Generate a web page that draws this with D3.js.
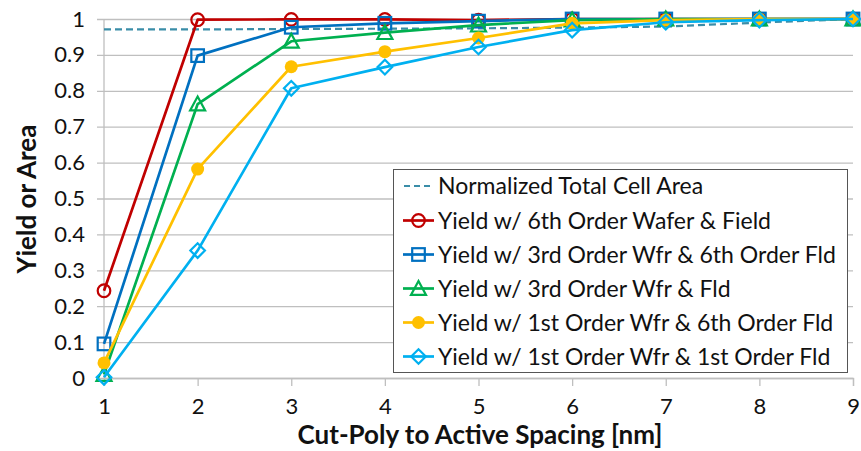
<!DOCTYPE html>
<html>
<head>
<meta charset="utf-8">
<script src="https://cdn.jsdelivr.net/npm/d3@7"></script>
<style>
  html, body { margin: 0; padding: 0; background: #fff; }
  svg { display: block; font-family: Lato, "Open Sans", sans-serif; }
</style>
</head>
<body>
<svg id="chart" width="861" height="451"></svg>
<script>
// Cut-poly to active spacing (nm)
const spacing = [1, 2, 3, 4, 5, 6, 7, 8, 9];

const cellArea      = [0.971, 0.971, 0.972, 0.973, 0.974, 0.976, 0.979, 0.990, 1.000];
const yield6Wafer   = [0.243, 0.998, 0.999, 0.999, 0.997, 1.000, 1.000, 1.000, 1.000];
const yield3Wfr6Fld = [0.095, 0.898, 0.977, 0.988, 0.994, 1.000, 1.000, 1.000, 1.000];
const yield3Wfr3Fld = [0.010, 0.763, 0.938, 0.962, 0.983, 0.997, 1.000, 1.000, 1.000];
const yield1Wfr6Fld = [0.042, 0.582, 0.867, 0.909, 0.947, 0.988, 0.997, 1.000, 1.000];
const yield1Wfr1Fld = [0.002, 0.355, 0.807, 0.866, 0.922, 0.969, 0.991, 0.997, 1.000];

const xTicks = [1, 2, 3, 4, 5, 6, 7, 8, 9];
const yTicks = [0, 0.1, 0.2, 0.3, 0.4, 0.5, 0.6, 0.7, 0.8, 0.9, 1];

const seriesNames = [
  "Normalized Total Cell Area",
  "Yield w/ 6th Order Wafer & Field",
  "Yield w/ 3rd Order Wfr & 6th Order Fld",
  "Yield w/ 3rd Order Wfr & Fld",
  "Yield w/ 1st Order Wfr & 6th Order Fld",
  "Yield w/ 1st Order Wfr & 1st Order Fld"
];

const series = [
  { name: seriesNames[0], values: cellArea,      color: "#3A8DA8", marker: null,       dashed: true },
  { name: seriesNames[1], values: yield6Wafer,   color: "#C00000", marker: "circle" },
  { name: seriesNames[2], values: yield3Wfr6Fld, color: "#0070C0", marker: "square" },
  { name: seriesNames[3], values: yield3Wfr3Fld, color: "#00B050", marker: "triangle" },
  { name: seriesNames[4], values: yield1Wfr6Fld, color: "#FFC000", marker: "dot" },
  { name: seriesNames[5], values: yield1Wfr1Fld, color: "#00B0F0", marker: "diamond" }
];

const svg = d3.select("#chart");
const plotLeft = 104, plotRight = 853, plotTop = 19, plotBottom = 378;

const x = d3.scaleLinear().domain([1, 9]).range([plotLeft, plotRight]);
const y = d3.scaleLinear().domain([0, 1]).range([plotBottom, plotTop]);

const gridColor = "#BFBFBF";

// horizontal gridlines with short ticks left of the axis
const yAxis = d3.axisLeft(y).tickValues(yTicks).tickSize(-(plotRight - plotLeft)).tickPadding(19)
  .tickFormat(d => d === 0 ? "0" : d === 1 ? "1" : d3.format(".1f")(d));
const gy = svg.append("g").attr("transform", `translate(${plotLeft},0)`).call(yAxis);
gy.select(".domain").remove();
gy.selectAll(".tick line").attr("stroke", gridColor).attr("stroke-width", 1.3)
  .attr("x1", -7);
gy.selectAll(".tick text").attr("font-size", 22).attr("fill", "#111")
  .attr("font-family", "Lato, sans-serif");

// vertical axis line
svg.append("line").attr("x1", plotLeft).attr("x2", plotLeft).attr("y1", plotTop).attr("y2", plotBottom)
  .attr("stroke", gridColor).attr("stroke-width", 1.3);

// x axis
const xAxis = d3.axisBottom(x).tickValues(xTicks).tickSize(8).tickPadding(12).tickFormat(d3.format("d"));
const gx = svg.append("g").attr("transform", `translate(0,${plotBottom})`).call(xAxis);
gx.select(".domain").attr("stroke", gridColor).attr("stroke-width", 1.3);
gx.selectAll(".tick line").attr("stroke", gridColor).attr("stroke-width", 1.3);
gx.selectAll(".tick text").attr("font-size", 22).attr("fill", "#111")
  .attr("font-family", "Lato, sans-serif");

// axis titles
svg.append("text").attr("x", 480).attr("y", 444)
  .attr("text-anchor", "middle").attr("font-size", 26).attr("font-weight", "bold")
  .attr("fill", "#111").text("Cut-Poly to Active Spacing [nm]");
svg.append("text").attr("transform", "translate(36,199) rotate(-90)")
  .attr("text-anchor", "middle").attr("font-size", 26).attr("font-weight", "bold")
  .attr("fill", "#111").text("Yield or Area");

// markers
function drawMarker(g, type, color, cx, cy) {
  if (type === "circle") {
    g.append("circle").attr("cx", cx).attr("cy", cy).attr("r", 6.3)
      .attr("fill", "none").attr("stroke", color).attr("stroke-width", 2.2);
  } else if (type === "square") {
    g.append("rect").attr("x", cx - 6.3).attr("y", cy - 6.3).attr("width", 12.6).attr("height", 12.6)
      .attr("fill", "none").attr("stroke", color).attr("stroke-width", 2.2);
  } else if (type === "triangle") {
    const s = 7.5;
    g.append("path").attr("d", `M${cx},${cy - s}L${cx + s},${cy + s * 0.85}L${cx - s},${cy + s * 0.85}Z`)
      .attr("fill", "none").attr("stroke", color).attr("stroke-width", 2.2);
  } else if (type === "dot") {
    g.append("circle").attr("cx", cx).attr("cy", cy).attr("r", 6.5).attr("fill", color);
  } else if (type === "diamond") {
    const s = 7.3;
    g.append("path").attr("d", `M${cx},${cy - s}L${cx + s},${cy}L${cx},${cy + s}L${cx - s},${cy}Z`)
      .attr("fill", "none").attr("stroke", color).attr("stroke-width", 2.2);
  }
}

const line = d3.line().x((d, i) => x(spacing[i])).y(d => y(d));

series.forEach(s => {
  const g = svg.append("g");
  g.append("path").datum(s.values).attr("d", line)
    .attr("fill", "none").attr("stroke", s.color)
    .attr("stroke-width", s.dashed ? 2.2 : 2.7)
    .attr("stroke-dasharray", s.dashed ? "7,4" : null)
    .attr("stroke-linejoin", "round");
  if (s.marker) {
    s.values.forEach((v, i) => drawMarker(g, s.marker, s.color, x(spacing[i]), y(v)));
  }
});

// legend
const lg = svg.append("g");
lg.append("rect").attr("x", 393.5).attr("y", 169.5).attr("width", 454).attr("height", 203)
  .attr("fill", "#fff").attr("stroke", "#555").attr("stroke-width", 1);
const rowY = [186, 220.5, 254.5, 288.5, 322.5, 356.5];
series.forEach((s, i) => {
  const cy = rowY[i];
  if (s.dashed) {
    lg.append("line").attr("x1", 404).attr("x2", 432).attr("y1", cy).attr("y2", cy)
      .attr("stroke", s.color).attr("stroke-width", 2.2).attr("stroke-dasharray", "6,4");
  } else {
    lg.append("line").attr("x1", 403).attr("x2", 434).attr("y1", cy).attr("y2", cy)
      .attr("stroke", s.color).attr("stroke-width", 2.7);
    drawMarker(lg, s.marker, s.color, 418.5, cy);
  }
  lg.append("text").attr("x", 438).attr("y", cy).attr("dy", "0.36em")
    .attr("font-size", 23).attr("fill", "#111").text(s.name);
});
</script>
</body>
</html>
